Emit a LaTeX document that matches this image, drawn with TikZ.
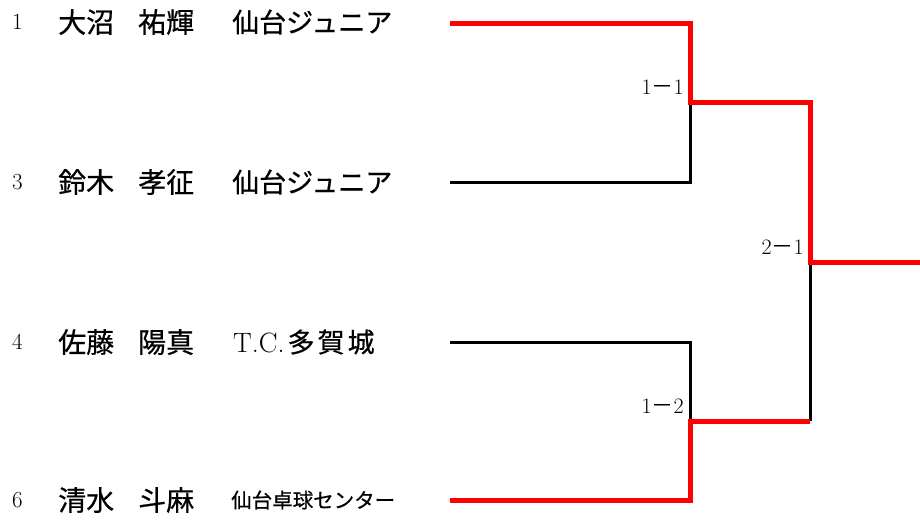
\documentclass[tikz,border=0pt]{standalone}
\usepackage{fontspec}
\newfontfamily\cjk{Noto Sans CJK JP}[FakeBold=0.6]
\newfontfamily\cjkr{Noto Sans CJK JP}
\begin{document}
\begin{tikzpicture}[x=1pt,y=-1pt,
  seed/.style={anchor=west,inner sep=0pt,font=\fontsize{23}{23}\selectfont},
  pname/.style={anchor=west,inner sep=0pt,font=\cjk\fontsize{28}{28}\selectfont},
  team/.style={anchor=west,inner sep=0pt,font=\cjk\fontsize{27}{27}\selectfont},
  teamsmall/.style={anchor=west,inner sep=0pt,font=\cjk\fontsize{20.5}{21}\selectfont},
  score/.style={anchor=base east,inner sep=0pt,font=\fontsize{22}{22}\selectfont},
  lose/.style={draw=black,line width=3pt},
  win/.style={draw=red,line width=5pt,line join=miter}]
\useasboundingbox (0,0) rectangle (920,520);
% rows
\node[seed] (s1) at (12,22) {1};
\node[pname] (n1a) at (58,22) {大沼};
\node[pname] (n1b) at (138,22) {祐輝};
\node[team] (t1) at (232,22) {仙台ジュニア};

\node[seed] (s3) at (12,182) {3};
\node[pname] (n3a) at (58,182) {鈴木};
\node[pname] (n3b) at (138,182) {孝征};
\node[team] (t3) at (232,182) {仙台ジュニア};

\node[seed] (s4) at (12,342) {4};
\node[pname] (n4a) at (58,342) {佐藤};
\node[pname] (n4b) at (138,342) {陽真};
\node[team] (t4) at (233,342) {{\rmfamily\fontsize{28}{28}\selectfont T.C.}\kern3pt 多\kern3pt 賀\kern3pt 城};

\node[seed] (s6) at (12,500) {6};
\node[pname] (n6a) at (58,500) {清水};
\node[pname] (n6b) at (138,500) {斗麻};
\node[teamsmall] (t6) at (231,500) {仙台卓球センター};

% bracket coordinates
\coordinate (p1) at (450,23);
\coordinate (p3) at (450,182);
\coordinate (p4) at (450,342);
\coordinate (p6) at (450,500);
\coordinate (c1) at (690,23);
\coordinate (c3) at (690,182);
\coordinate (c4) at (690,342);
\coordinate (c6) at (690,500);
\coordinate (m1) at (690,102);
\coordinate (m2) at (690,421);
\coordinate (r1) at (810,102);
\coordinate (r2) at (810,421);
\coordinate (f) at (810,262);
\coordinate (out) at (921,262);

% losers (black)
\draw[lose] (p3) -- (c3) -- (m1);
\draw[lose] (p4) -- (c4) -- (m2);
\draw[lose] (f) -- (r2);
% winners (red)
\draw[win] (p1) -- (c1) -- (m1) -- (r1) -- (f) -- (out);
\draw[win] (p6) -- (c6) -- (m2) -- (r2);

% scores
\node[score] (sc1) at (684,94) {1{\cjkr －}1};
\node[score] (sc2) at (804,254) {2{\cjkr －}1};
\node[score] (sc3) at (684,413) {1{\cjkr －}2};
\end{tikzpicture}
\end{document}
